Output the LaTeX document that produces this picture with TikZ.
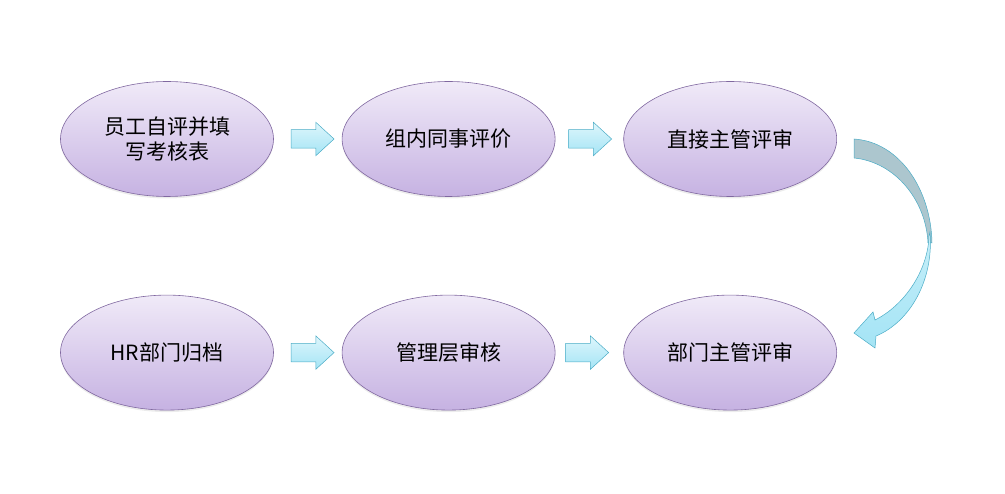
\documentclass[tikz,border=0pt]{standalone}
\usepackage{fontspec}
\newfontfamily\cjk{Noto Sans CJK SC}
\usetikzlibrary{shapes.geometric,shapes.arrows,positioning,shadows}

\definecolor{lavtop}{RGB}{240,234,248}
\definecolor{lavbot}{RGB}{198,178,226}
\definecolor{lavline}{RGB}{128,104,160}
\definecolor{cyantop}{RGB}{222,246,252}
\definecolor{cyanbot}{RGB}{164,228,245}
\definecolor{cyanline}{RGB}{75,172,198}
\definecolor{backgray}{RGB}{172,198,206}

\begin{document}
\begin{tikzpicture}[x=1pt,y=-1pt,node distance=98pt and 68pt,
  stage/.style={ellipse,draw=lavline,line width=0.6pt,top color=lavtop,bottom color=lavbot,
    minimum width=213pt,minimum height=115pt,inner sep=0pt,align=center,
    font=\cjk\fontsize{21}{25}\selectfont,
    drop shadow={opacity=0.15,shadow xshift=0pt,shadow yshift=-2pt}},
  blockarrow/.style={single arrow,draw=cyanline,line width=0.5pt,top color=cyantop,bottom color=cyanbot,
    minimum height=43pt,single arrow head extend=7.5pt,
    single arrow tip angle=85,inner xsep=0pt,inner ysep=9pt,anchor=west}]
\useasboundingbox (0,0) rectangle (1005,494);
\node[stage] (self) at (167,139) {员工自评并填\\写考核表};
\node[stage,right=of self] (peer) {组内同事评价};
\node[stage,right=of peer] (boss) {直接主管评审};
\node[stage,below=of self] (hr) {HR部门归档};
\node[stage,below=of peer] (mgmt) {管理层审核};
\node[stage,below=of boss] (dept) {部门主管评审};
\node[blockarrow,right=17pt of self] (a1) {};
\node[blockarrow,right=13pt of peer] (a2) {};
\node[blockarrow,right=17pt of hr] (a3) {};
\node[blockarrow,right=10pt of mgmt] (a4) {};
% curved arrow from boss down to dept
\path[draw=cyanline,line width=0.5pt,fill=backgray]
  (854,139) .. controls (900,142) and (931,190) .. (932,243) -- (928,243)
  .. controls (926,200) and (895,162) .. (854,158) -- cycle;
\path[draw=cyanline,line width=0.5pt,top color=cyantop!60!cyanbot,bottom color=cyanbot]
  (930,232) .. controls (934,280) and (910,322) .. (876,336) -- (875,348) -- (854,333)
  -- (873,312) -- (875,320) .. controls (905,305) and (928,270) .. (929,236) -- cycle;
\end{tikzpicture}
\end{document}
